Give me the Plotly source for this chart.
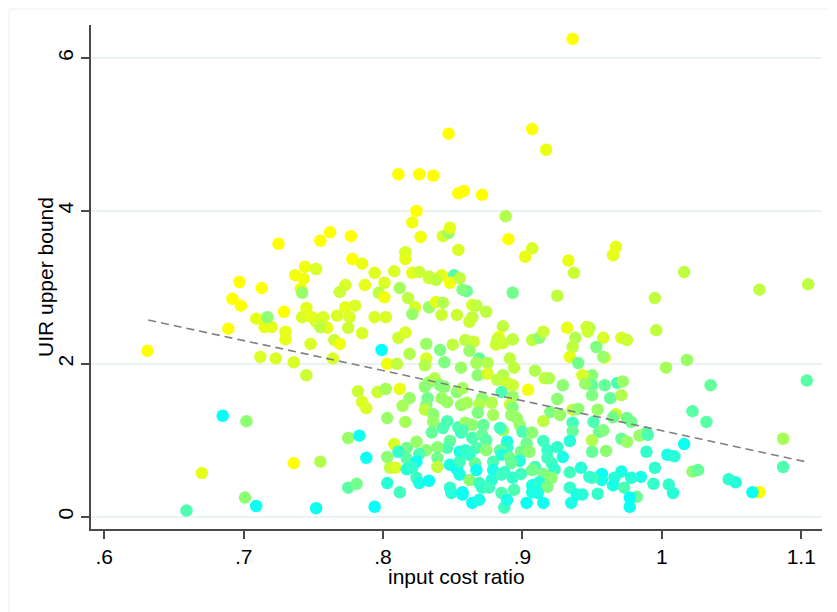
import plotly.graph_objects as go

# ---------------- data ----------------
# upper / sparse region
x_upper = [0.936,0.847,0.907,0.917,0.811,0.826,0.836,0.854,0.858,0.871,0.824,0.821,0.827,0.888,0.890,0.907,0.902,0.933,0.937,0.967,0.965,1.016,0.995,1.070,1.105,0.925,0.893,0.860,0.851,0.842,0.833,0.848,0.855,0.843,0.847,0.848,0.854,0.777,0.762,0.755,0.725,0.778,0.785,0.816,0.816,0.794,0.808,0.821,0.826,0.833,0.838,0.773,0.769,0.787,0.801,0.797,0.801,0.812,0.818,0.773,0.780,0.823,0.833,0.838,0.843,0.821,0.767,0.776,0.794,0.802,0.842,0.853,0.857,0.864,0.867,0.874,0.864]
y_upper = [6.25,5.01,5.07,4.80,4.48,4.48,4.46,4.23,4.26,4.21,4.00,3.85,3.66,3.93,3.63,3.51,3.40,3.35,3.19,3.53,3.42,3.20,2.86,2.97,3.04,2.89,2.93,2.95,3.16,3.16,3.12,3.06,3.12,3.67,3.71,3.78,3.49,3.67,3.72,3.61,3.57,3.37,3.31,3.46,3.37,3.19,3.21,3.19,3.20,3.14,3.10,3.03,2.94,3.03,3.06,2.93,2.87,2.99,2.86,2.74,2.76,2.74,2.74,2.81,2.80,2.65,2.63,2.61,2.61,2.61,2.64,2.64,2.97,2.77,2.76,2.68,2.61]
c_upper = [1,1,1,.92,1,1,1,1,1,1,1,.95,.95,.7,1,.85,.92,.92,.8,.9,.9,.75,.75,.75,.75,.75,.45,.4,.35,.9,.85,.95,.75,.85,.6,.9,.85,1,1,1,1,1,.92,.85,.9,.88,.85,.9,.8,.8,.75,.85,.8,.9,.85,.75,.95,.65,.75,.9,.85,.85,.6,.9,.7,.6,.85,.85,.85,.85,.8,.8,.5,.85,.75,.75,.75]

# left region
x_left = [0.697,0.713,0.692,0.698,0.744,0.752,0.737,0.743,0.741,0.742,0.729,0.745,0.742,0.749,0.752,0.757,0.760,0.755,0.709,0.715,0.720,0.730,0.730,0.689,0.748,0.712,0.723,0.736,0.745,0.764,0.765,0.769,0.631,0.717]
y_left = [3.07,2.99,2.85,2.76,3.27,3.24,3.16,3.11,2.98,2.93,2.68,2.73,2.61,2.61,2.55,2.61,2.47,2.48,2.59,2.48,2.48,2.42,2.32,2.46,2.26,2.09,2.07,2.02,1.85,2.07,2.31,2.26,2.17,2.61]
c_left = [1,1,1,1,.95,.85,.95,.95,.95,.6,1,.9,.85,.9,.85,.85,.9,.75,.9,.9,.9,.9,.9,1,.85,.85,.85,.85,.8,.85,.8,.95,1,.55]

# middle region
x_mid = [0.775,0.785,0.811,0.816,0.799,0.819,0.831,0.841,0.850,0.844,0.831,0.830,0.803,0.810,0.856,0.833,0.837,0.830,0.841,0.844,0.853,0.842,0.846,0.832,0.831,0.830,0.836,0.856,0.782,0.785,0.788,0.796,0.802,0.812,0.819,0.814,0.803,0.816,0.836,0.846,0.835,0.843,0.854,0.856,0.848,0.846,0.839,0.855,0.775,0.783,0.824,0.831,0.808,0.817,0.811,0.826,0.803,0.817,0.824,0.839,0.848,0.853,0.805,0.809,0.817,0.821,0.839,0.788,0.775,0.781,0.803,0.824,0.826,0.833,0.812,0.848,0.849,0.857,0.794,0.685,0.702,0.736,0.755,0.670,0.701,0.709,0.659,0.752]
y_mid = [2.47,2.40,2.34,2.41,2.18,2.13,2.26,2.18,2.25,2.02,2.07,1.98,2.00,2.00,1.95,1.76,1.81,1.70,1.72,1.70,1.63,1.55,1.50,1.55,1.46,1.40,1.34,1.46,1.64,1.50,1.42,1.63,1.67,1.67,1.55,1.45,1.29,1.24,1.24,1.25,1.10,1.16,1.17,1.10,0.99,0.90,0.91,0.85,1.03,1.06,0.98,0.87,0.95,0.90,0.85,0.82,0.78,0.76,0.72,0.77,0.68,0.62,0.64,0.64,0.62,0.64,0.65,0.77,0.38,0.43,0.44,0.51,0.44,0.47,0.32,0.38,0.31,0.29,0.13,1.32,1.25,0.70,0.72,0.57,0.25,0.14,0.08,0.11]
c_mid = [.8,.85,.8,.85,.02,.7,.6,.5,.75,.5,.85,.7,.95,.75,.6,.6,.7,.55,.5,.55,.55,.6,.6,.45,.5,.75,.55,.6,.8,.85,.85,.8,.65,.92,.6,.65,.6,.65,.6,.3,.4,.3,.3,.2,.4,.3,.55,.1,.6,.05,.6,.55,.85,.45,.2,.3,.55,.35,.05,.45,.1,.05,.75,.85,.15,.2,.75,.05,.35,.45,.15,.25,.1,.05,.25,.2,.15,.05,.02,.02,.55,1,.7,.9,.55,.05,.3,.05]

# right region
x_right = [0.996,1.003,1.018,1.035,1.104,1.022,1.032,1.087,1.016,1.004,1.009,1.087,1.022,1.026,1.048,1.053,1.070,1.065,0.995,0.994,1.005,1.008,0.989,0.989,0.984,0.990,0.971,0.975,0.960,0.950,0.985,0.978,0.971,0.966,0.965,0.973,0.982,0.977,0.977,0.957,0.957,0.954,0.950,0.971,0.975,0.958,0.953,0.959,0.958,0.948,0.950,0.950,0.950,0.959,0.968,0.972,0.963,0.971,0.954,0.967,0.965,0.975,0.978,0.951,0.955,0.958,0.950,0.932,0.946,0.947,0.938,0.936,0.934,0.940]
y_right = [2.44,1.95,2.05,1.72,1.78,1.38,1.24,1.02,0.95,0.81,0.79,0.65,0.59,0.61,0.49,0.45,0.32,0.32,0.64,0.43,0.42,0.31,1.10,0.85,1.06,1.07,1.02,0.98,0.86,0.85,0.52,0.51,0.59,0.51,0.41,0.38,0.26,0.25,0.13,0.56,0.48,0.30,0.51,2.34,2.31,2.34,2.22,2.08,2.09,2.47,1.85,1.72,1.59,1.72,1.75,1.77,1.55,1.59,1.40,1.34,1.30,1.29,1.24,1.24,1.11,1.13,1.00,2.47,2.48,2.42,2.34,2.22,2.09,2.01]
c_right = [.75,.65,.6,.4,.35,.35,.35,.65,.05,.1,.15,.3,.55,.4,.2,.15,1,.05,.2,.2,.2,.15,.4,.2,.6,.3,.4,.6,.55,.4,.1,.15,.1,.15,.1,.3,.4,.02,.05,.05,.1,.2,.3,.85,.8,.85,.5,.95,.6,.7,.55,.4,.5,.4,.3,.6,.4,.7,.6,.8,.45,.45,.45,.3,.4,.5,.7,.92,.8,.8,.7,.75,.9,.45]

# dense core
x_core = [0.862,0.886,0.865,0.883,0.882,0.881,0.886,0.893,0.907,0.912,0.915,0.859,0.862,0.869,0.875,0.867,0.891,0.894,0.909,0.868,0.875,0.886,0.882,0.889,0.893,0.904,0.916,0.919,0.929,0.943,0.945,0.857,0.885,0.893,0.925,0.871,0.860,0.869,0.878,0.891,0.893,0.920,0.927,0.936,0.940,0.868,0.879,0.892,0.896,0.915,0.859,0.864,0.872,0.886,0.898,0.857,0.884,0.900,0.907,0.936,0.936,0.864,0.871,0.874,0.889,0.889,0.903,0.915,0.934,0.859,0.867,0.874,0.884,0.899,0.905,0.918,0.925,0.862,0.885,0.891,0.898,0.918,0.929,0.921,0.855,0.866,0.879,0.892,0.909,0.923,0.934,0.942,0.948,0.867,0.879,0.887,0.899,0.907,0.915,0.921,0.855,0.862,0.869,0.878,0.885,0.893,0.907,0.912,0.918,0.934,0.939,0.943,0.857,0.871,0.876,0.885,0.894,0.907,0.911,0.864,0.869,0.887,0.889,0.903,0.915,0.935]
y_core = [2.55,2.49,2.29,2.35,2.32,2.25,2.27,2.32,2.31,2.34,2.42,2.31,2.17,2.07,2.01,2.01,2.07,1.95,1.91,1.85,1.87,1.85,1.79,1.75,1.72,1.66,1.81,1.81,1.72,1.85,1.74,1.68,1.63,1.57,1.54,1.55,1.49,1.47,1.49,1.47,1.43,1.37,1.33,1.40,1.41,1.36,1.33,1.33,1.29,1.25,1.23,1.20,1.20,1.13,1.20,1.13,1.16,1.11,1.10,1.23,1.12,1.03,1.07,1.00,0.98,0.90,0.96,0.99,0.99,0.87,0.90,0.87,0.87,0.85,0.85,0.87,0.91,0.81,0.81,0.77,0.73,0.77,0.78,0.70,0.72,0.70,0.72,0.70,0.65,0.62,0.58,0.64,0.52,0.61,0.61,0.58,0.56,0.61,0.56,0.51,0.55,0.48,0.44,0.48,0.55,0.51,0.41,0.45,0.39,0.38,0.29,0.29,0.32,0.38,0.38,0.31,0.35,0.32,0.31,0.18,0.22,0.12,0.22,0.18,0.18,0.18]
c_core = [.8,.75,.8,.95,.8,.8,.8,.75,.75,.55,.8,.75,.6,.4,.7,.65,.75,.75,.7,.55,.85,.7,.75,.8,.8,.95,.75,.7,.55,.85,.6,.65,.3,.6,.55,.55,.65,.7,.7,.8,.5,.5,.6,.75,.55,.5,.65,.6,.6,.75,.6,.55,.4,.6,.6,.3,.25,.3,.55,.25,.4,.3,.4,.35,.1,.2,.45,.25,.15,.2,.3,.55,.4,.45,.55,.2,.2,.2,.15,.45,.15,.25,.1,.25,.25,.4,.3,.4,.3,.2,.25,.15,.2,.05,.1,.2,.25,.45,.5,.55,.1,.55,.25,.15,.25,.2,.1,.15,.5,.2,.1,.15,.05,.2,.25,.3,.3,.1,.1,.05,.1,.25,.1,.05,.05,.1]

# fitted line end points
fit_x = [0.6316, 1.105]
fit_y = [2.573, 0.712]

x_ticks = [0.6, 0.7, 0.8, 0.9, 1.0, 1.1]
x_tick_labels = [".6", ".7", ".8", ".9", "1", "1.1"]
y_ticks = [0, 2, 4, 6]
y_tick_labels = ["0", "2", "4", "6"]
x_title = "input cost ratio"
y_title = "UIR upper bound"

# ---------------- assemble ----------------
groups = [(x_upper, y_upper, c_upper), (x_left, y_left, c_left), (x_mid, y_mid, c_mid),
          (x_right, y_right, c_right), (x_core, y_core, c_core)]
xs, ys, cs = [], [], []
for gx, gy, gc in groups:
    assert len(gx) == len(gy) == len(gc), (len(gx), len(gy), len(gc))
    xs += gx; ys += gy; cs += gc

FONT = "Liberation Sans, Arial, sans-serif"
AX = "#4a4a4a"
FS = 21
ML, MR, MT, MB = 83, 23, 17, 91
PW, PH = 837 - ML - MR, 612 - MT - MB

fig = go.Figure()
fig.add_trace(go.Scatter(
    x=xs, y=ys, mode="markers",
    marker=dict(size=12.5, color=cs, cmin=0, cmax=1,
                colorscale=[[0, "#00FFFF"], [1, "#FFFF00"]],
                line=dict(width=0), opacity=1),
    showlegend=False, hoverinfo="skip"))
fig.add_trace(go.Scatter(
    x=fit_x, y=fit_y, mode="lines",
    line=dict(color="#7f7f7f", width=1.6, dash="8px,5px"),
    showlegend=False, hoverinfo="skip"))

fig.update_layout(
    width=837, height=612,
    margin=dict(l=ML, r=MR, t=MT, b=MB, autoexpand=False),
    paper_bgcolor="white", plot_bgcolor="white",
    font=dict(family=FONT, color="black", size=FS),
    xaxis=dict(range=[0.5905, 1.1149], tickvals=x_ticks, ticktext=x_tick_labels,
               automargin=False,
               showgrid=False, zeroline=False, showline=True, linecolor=AX, linewidth=1.5,
               ticks="outside", ticklen=8, tickwidth=1.5, tickcolor=AX,
               tickfont=dict(size=FS)),
    yaxis=dict(range=[-0.161, 6.432], tickvals=y_ticks, ticktext=y_tick_labels,
               tickangle=-90, automargin=False,
               showgrid=True, gridcolor="#EAF2F3", gridwidth=1.5,
               zeroline=False, showline=True, linecolor=AX, linewidth=1.5,
               ticks="outside", ticklen=8, tickwidth=1.5, tickcolor=AX,
               tickfont=dict(size=FS)),
    annotations=[
        dict(text=x_title, xref="paper", yref="paper", x=0.5, y=-47 / PH,
             xanchor="center", yanchor="middle", showarrow=False, font=dict(size=FS)),
        dict(text=y_title, xref="paper", yref="paper", x=(37 - ML) / PW, y=0.5,
             xanchor="center", yanchor="middle", textangle=-90, showarrow=False,
             font=dict(size=FS)),
    ],
    shapes=[dict(type="rect", xref="paper", yref="paper",
                 x0=-(ML - 1) / PW, x1=(837 - ML + 5) / PW,
                 y0=-(MB + 10) / PH, y1=(PH + MT - 1) / PH,
                 line=dict(color="#f0f0f0", width=1), layer="below")],
)
fig.write_html("out.html")
